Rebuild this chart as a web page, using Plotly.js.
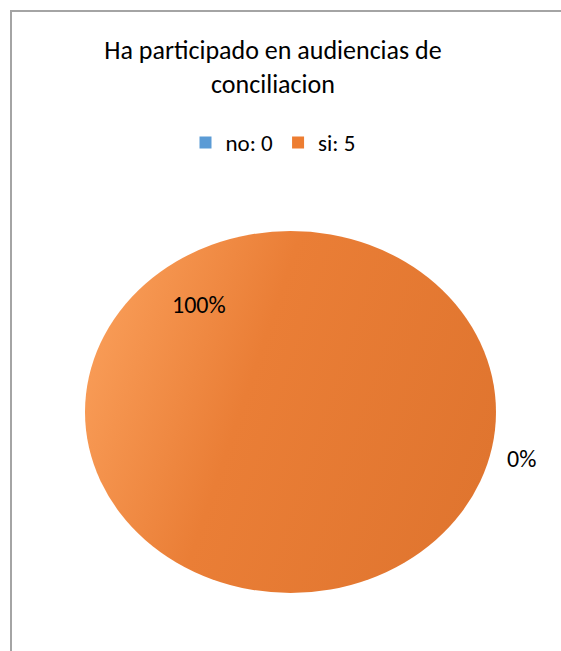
<!DOCTYPE html>
<html>
<head>
<meta charset="utf-8">
<script src="https://cdn.plot.ly/plotly-3.0.1.min.js"></script>
<style>
  html, body { margin: 0; padding: 0; background: #ffffff; overflow: hidden; }
  #wrap { position: relative; width: 561px; height: 651px; overflow: hidden; }
  #frame { position: absolute; left: 10px; top: 10px; width: 700px; height: 800px;
           border-left: 2px solid #a4a4a4; border-top: 2px solid #a4a4a4; box-sizing: border-box; }
  #chart { position: absolute; left: 0; top: 0; width: 561px; height: 651px; }
</style>
</head>
<body>
<div id="wrap">
  <div id="frame"></div>
  <div id="chart"></div>
</div>
<script>
// ---- data ----
const chartTitle = "Ha participado en audiencias de<br>conciliacion";
const categories = ["no", "si"];
const counts = [0, 5];
const sliceColors = ["#5b9bd5", "#ed7d31"];

const total = counts.reduce((a, b) => a + b, 0);
const legendLabels = categories.map((c, i) => c + ": " + counts[i]);
const pctText = counts.map(v => Math.round(v / total * 100) + "%");

const FONT = "Calibri, Carlito, Lato, 'Open Sans', sans-serif";

// pie geometry (pixels, margin 0)
const W = 561, H = 651;
const cx = 290.5, cy = 412, ry = 181, rx = 205.5;

const trace = {
  type: "pie",
  labels: legendLabels,
  values: counts,
  sort: false,
  direction: "clockwise",
  rotation: 0,
  textinfo: "none",
  hoverinfo: "label+percent",
  marker: { colors: sliceColors, line: { width: 0 } },
  domain: {
    x: [(cx - ry) / W, (cx + ry) / W],
    y: [(H - cy - ry) / H, (H - cy + ry) / H]
  },
  showlegend: true
};

const layout = {
  width: W,
  height: H,
  margin: { l: 0, r: 0, t: 0, b: 0 },
  paper_bgcolor: "rgba(0,0,0,0)",
  font: { family: FONT, color: "#000000" },
  title: {
    text: chartTitle,
    font: { family: FONT, size: 26, color: "#000000" },
    x: 273 / W, xanchor: "center", xref: "paper",
    y: 1 - 59 / H, yanchor: "top", yref: "container"
  },
  showlegend: true,
  legend: {
    orientation: "h",
    x: 273 / W, xanchor: "center",
    y: 1 - 121 / H, yanchor: "top",
    font: { family: FONT, size: 23, color: "#000000" },
    traceorder: "normal",
    bgcolor: "rgba(0,0,0,0)"
  },
  annotations: [
    { text: pctText[1], xref: "paper", yref: "paper", x: 198.5 / W, y: 1 - 304 / H,
      xanchor: "center", yanchor: "middle", showarrow: false,
      font: { family: FONT, size: 24, color: "#000000" } },
    { text: pctText[0], xref: "paper", yref: "paper", x: 521 / W, y: 1 - 458 / H,
      xanchor: "center", yanchor: "middle", showarrow: false,
      font: { family: FONT, size: 24, color: "#000000" } }
  ]
};

Plotly.newPlot("chart", [trace], layout, { displayModeBar: false, staticPlot: true }).then(gd => {
  const svg = gd.querySelector("svg.main-svg");
  const NS = "http://www.w3.org/2000/svg";
  let defs = svg.querySelector("defs");
  if (!defs) { defs = document.createElementNS(NS, "defs"); svg.insertBefore(defs, svg.firstChild); }
  const grad = document.createElementNS(NS, "linearGradient");
  grad.setAttribute("id", "pieGrad");
  grad.setAttribute("x1", "0"); grad.setAttribute("y1", "0.3");
  grad.setAttribute("x2", "1"); grad.setAttribute("y2", "0.6");
  [["0", "#f99d58"], ["0.4", "#ea7e36"], ["1", "#e0752f"]].forEach(([o, c]) => {
    const s = document.createElementNS(NS, "stop");
    s.setAttribute("offset", o); s.setAttribute("stop-color", c);
    grad.appendChild(s);
  });
  defs.appendChild(grad);
  gd.querySelectorAll(".pielayer path.surface").forEach(p => {
    p.style.fill = "url(#pieGrad)";
  });
  const pl = gd.querySelector(".pielayer");
  if (pl) {
    pl.setAttribute("transform",
      `translate(${cx},${cy}) scale(${rx / ry},1) translate(${-cx},${-cy})`);
  }
});
</script>
</body>
</html>
